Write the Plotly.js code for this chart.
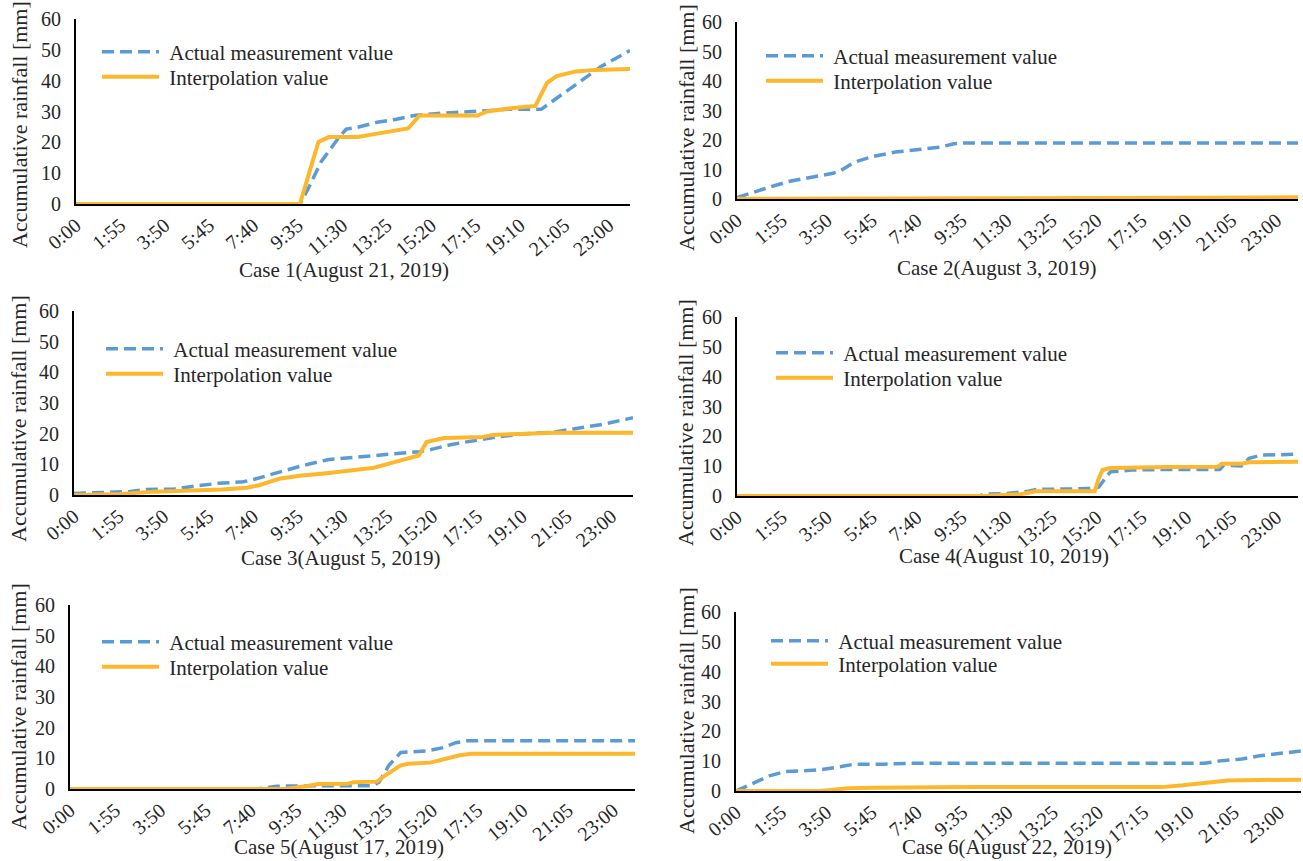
<!DOCTYPE html>
<html>
<head>
<meta charset="utf-8">
<script src="https://cdn.plot.ly/plotly-3.0.1.min.js"></script>
<style>
  html, body { margin: 0; padding: 0; background: #fff; }
  #chart { width: 1303px; height: 861px; }
</style>
</head>
<body>
<div id="chart"></div>
<script>
// Time-axis labels (every 115 minutes)
const tickLabels = ['0:00','1:55','3:50','5:45','7:40','9:35','11:30','13:25','15:20','17:15','19:10','21:05','23:00'];

// Case titles
const caseTitles = [
  'Case 1(August 21, 2019)',
  'Case 2(August 3, 2019)',
  'Case 3(August 5, 2019)',
  'Case 4(August 10, 2019)',
  'Case 5(August 17, 2019)',
  'Case 6(August 22, 2019)'
];
const yTitle = 'Accumulative rainfall [mm]';
const seriesNames = ['Actual measurement value', 'Interpolation value'];

// Accumulative rainfall [mm]; times given in minutes after midnight
const c1ActualT = [0, 580, 600, 635, 675, 700, 730, 780, 830, 880, 930, 1025, 1120, 1205, 1235, 1265, 1315, 1360, 1435];
const c1ActualV = [0, 0, 4.6, 13.7, 20.6, 24.3, 24.9, 26.5, 27.5, 28.8, 29.3, 30.0, 30.7, 30.7, 33.4, 36.0, 40.3, 44.6, 49.8];
const c1InterpT = [0, 580, 605, 628, 655, 730, 765, 810, 860, 890, 1040, 1065, 1120, 1190, 1220, 1245, 1295, 1345, 1435];
const c1InterpV = [0, 0, 10.5, 20.1, 21.7, 21.7, 22.5, 23.5, 24.5, 28.7, 28.7, 30.0, 31.0, 31.8, 39.3, 41.5, 43.0, 43.5, 43.8];

const c2ActualT = [0, 40, 95, 135, 190, 245, 265, 300, 350, 405, 465, 520, 555, 575, 1435];
const c2ActualV = [0.5, 2.3, 4.5, 6.0, 7.4, 8.7, 9.6, 12.5, 14.5, 15.9, 16.8, 17.6, 18.7, 19.0, 19.0];
const c2InterpT = [0, 900, 1200, 1435];
const c2InterpV = [0.1, 0.2, 0.4, 0.6];

const c3ActualT = [0, 90, 140, 185, 255, 310, 370, 435, 465, 520, 590, 655, 730, 810, 885, 915, 970, 1030, 1085, 1160, 1230, 1285, 1355, 1435];
const c3ActualV = [0.5, 0.8, 1.1, 1.8, 1.9, 2.9, 3.8, 4.3, 5.2, 7.2, 9.7, 11.6, 12.4, 13.2, 14.1, 14.8, 16.5, 17.8, 18.9, 20.0, 20.5, 21.6, 23.0, 25.2];
const c3InterpT = [0, 120, 205, 300, 380, 445, 475, 530, 580, 655, 730, 770, 825, 885, 905, 950, 1050, 1075, 1160, 1230, 1435];
const c3InterpV = [0, 0.3, 1.1, 1.4, 1.8, 2.4, 3.2, 5.4, 6.3, 7.2, 8.3, 8.9, 10.8, 12.9, 17.3, 18.6, 18.9, 19.6, 20.0, 20.3, 20.3];

const c4ActualT = [0, 620, 630, 690, 745, 765, 915, 925, 955, 1010, 1100, 1235, 1245, 1290, 1310, 1340, 1435];
const c4ActualV = [0, 0, 0.6, 0.8, 1.6, 2.2, 2.5, 3.0, 8.1, 8.7, 8.9, 8.9, 10.3, 10.1, 12.6, 13.7, 14.0];
const c4InterpT = [0, 630, 725, 765, 915, 925, 935, 955, 1105, 1230, 1240, 1290, 1310, 1435];
const c4InterpV = [0, 0, 0.6, 1.6, 1.6, 5.8, 8.7, 9.4, 9.7, 9.8, 10.8, 10.8, 11.3, 11.5];

const c5ActualT = [0, 470, 525, 565, 770, 785, 810, 840, 905, 945, 980, 1010, 1435];
const c5ActualV = [0, 0, 0.9, 1.0, 1.1, 2.2, 7.7, 11.9, 12.4, 13.4, 15.1, 15.7, 15.7];
const c5InterpT = [0, 545, 600, 630, 705, 720, 780, 800, 840, 860, 915, 950, 990, 1020, 1435];
const c5InterpV = [0, 0, 0.9, 1.6, 1.7, 2.2, 2.4, 4.4, 7.7, 8.2, 8.6, 9.7, 11.0, 11.5, 11.5];

const c6ActualT = [0, 40, 85, 125, 170, 215, 255, 300, 375, 440, 1190, 1230, 1285, 1330, 1435];
const c6ActualV = [0, 2.5, 5.1, 6.5, 6.7, 7.1, 7.9, 9.0, 9.0, 9.3, 9.3, 10.1, 10.7, 11.8, 13.4];
const c6InterpT = [0, 215, 285, 350, 600, 1080, 1135, 1190, 1250, 1330, 1435];
const c6InterpV = [0, 0, 0.9, 1.1, 1.3, 1.3, 1.9, 2.8, 3.5, 3.7, 3.8];

// ---- drawing ----
const W = 1303, H = 861;
const FONT = 'Liberation Serif, Times New Roman, serif';
const TEXT = '#262626';
const BLUE = '#5B9BD5';
const GOLD = '#FDB72D';

const tickVals = tickLabels.map(s => { const p = s.split(':'); return (+p[0]) * 60 + (+p[1]); });

const cases = [
  [c1ActualT, c1ActualV, c1InterpT, c1InterpV],
  [c2ActualT, c2ActualV, c2InterpT, c2InterpV],
  [c3ActualT, c3ActualV, c3InterpT, c3InterpV],
  [c4ActualT, c4ActualV, c4InterpT, c4InterpV],
  [c5ActualT, c5ActualV, c5InterpT, c5InterpV],
  [c6ActualT, c6ActualV, c6InterpT, c6InterpV]
];

// panel frames in pixels: [left, right, top (=60), bottom (=0)]
const boxes = [
  [76, 630, 19, 204],
  [737, 1298, 22, 199],
  [74, 633, 311, 495],
  [737, 1298, 317, 496],
  [70, 635, 605, 789],
  [736, 1301, 612, 791]
];
// legend line start x, row 1 centre y, row 2 centre y
const legendPos = [
  [104, 52, 77], [768, 56, 81], [108, 349, 374],
  [778, 353, 378], [104, 642, 667], [773, 641, 664]
];
// title centres in pixels: x-title [x, y], y-title [x, y]
const xTitlePos = [[344, 270], [996, 268], [340, 558], [1004, 556], [339, 847], [1007, 847]];
const yTitlePos = [[19, 125], [686, 128], [18, 419], [686, 423], [18, 707], [686, 711]];

const px = x => x / W;
const py = y => 1 - y / H;

const data = [];
const annotations = [];
const layout = {
  width: W, height: H,
  margin: { l: 0, r: 0, t: 0, b: 0 },
  paper_bgcolor: '#fff',
  plot_bgcolor: 'rgba(0,0,0,0)',
  font: { family: FONT, size: 20, color: TEXT },
  showlegend: true
};

cases.forEach((c, i) => {
  const n = i === 0 ? '' : String(i + 1);
  const legA = 'legend' + (i === 0 ? '' : String(2 * i + 1));
  const legB = 'legend' + String(2 * i + 2);
  data.push({
    type: 'scatter', mode: 'lines',
    x: c[0], y: c[1], name: '\u00a0' + seriesNames[0],
    xaxis: 'x' + n, yaxis: 'y' + n, legend: legA,
    line: { color: BLUE, width: 3.5, dash: '12px,6px' },
    hoverinfo: 'x+y'
  });
  data.push({
    type: 'scatter', mode: 'lines',
    x: c[2], y: c[3], name: '\u00a0' + seriesNames[1],
    xaxis: 'x' + n, yaxis: 'y' + n, legend: legB,
    line: { color: GOLD, width: 4 },
    hoverinfo: 'x+y'
  });
  const b = boxes[i];
  layout['xaxis' + n] = {
    domain: [px(b[0]), px(b[1])],
    anchor: 'y' + n,
    range: [0, 1435],
    tickmode: 'array', tickvals: tickVals, ticktext: tickLabels,
    tickangle: -40,
    tickfont: { family: FONT, size: 20, color: TEXT },
    showgrid: false, zeroline: false,
    showline: true, linecolor: '#000', linewidth: 2,
    ticks: '', layer: 'below traces',
    automargin: false
  };
  layout['yaxis' + n] = {
    domain: [py(b[3]), py(b[2])],
    anchor: 'x' + n,
    range: [0, 60], dtick: 10,
    tickfont: { family: FONT, size: 20, color: TEXT },
    ticklabelstandoff: 9,
    showgrid: false, zeroline: false,
    showline: true, linecolor: '#000', linewidth: 2,
    ticks: '', layer: 'below traces',
    automargin: false
  };
  const lp = legendPos[i];
  const legStyle = {
    xanchor: 'left', yanchor: 'middle',
    bgcolor: 'rgba(0,0,0,0)', borderwidth: 0,
    font: { family: FONT, size: 21, color: TEXT },
    itemwidth: 57
  };
  layout[legA] = Object.assign({ x: px(lp[0] - 7), y: py(lp[1]) }, legStyle);
  layout[legB] = Object.assign({ x: px(lp[0] - 7), y: py(lp[2]) }, legStyle);

  annotations.push({
    xref: 'paper', yref: 'paper',
    x: px(xTitlePos[i][0]), y: py(xTitlePos[i][1]),
    xanchor: 'center', yanchor: 'middle', showarrow: false,
    text: caseTitles[i],
    font: { family: FONT, size: 21, color: TEXT }
  });
  annotations.push({
    xref: 'paper', yref: 'paper',
    x: px(yTitlePos[i][0]), y: py(yTitlePos[i][1]),
    xanchor: 'center', yanchor: 'middle', showarrow: false,
    textangle: -90,
    text: yTitle,
    font: { family: FONT, size: 22, color: TEXT }
  });
});
layout.annotations = annotations;

Plotly.newPlot('chart', data, layout, { displayModeBar: false, staticPlot: true });
</script>
</body>
</html>
